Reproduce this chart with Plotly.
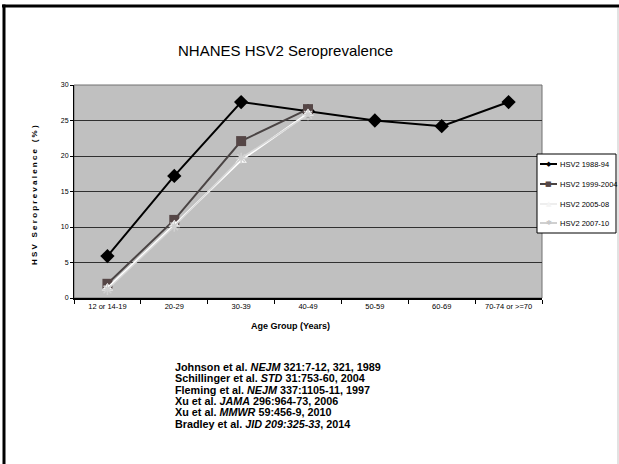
import plotly.graph_objects as go

categories = ["12 or 14-19", "20-29", "30-39", "40-49", "50-59", "60-69", "70-74 or >=70"]
s1988 = [5.9, 17.2, 27.6, 26.3, 25.0, 24.2, 27.6]
s1999 = [2.0, 11.0, 22.1, 26.6]
s2005 = [1.4, 10.3, 19.4, 26.0]
s2007 = [1.2, 10.1, 19.7, 25.8]
series_names = ["HSV2 1988-94", "HSV2 1999-2004", "HSV2 2005-08", "HSV2 2007-10"]
citations = [
    "<b>Johnson et al. <i>NEJM</i> 321:7-12, 321, 1989</b>",
    "<b>Schillinger et al. <i>STD</i> 31:753-60, 2004</b>",
    "<b>Fleming et al. <i>NEJM</i> 337:1105-11, 1997</b>",
    "<b>Xu et al. <i>JAMA</i> 296:964-73, 2006</b>",
    "<b>Xu et al. <i>MMWR</i> 59:456-9, 2010</b>",
    "<b>Bradley et al. <i>JID 209:325-33</i>, 2014</b>",
]

W, H = 619, 464
L, R, T, B = 74, 542, 85, 298
FONT = "Liberation Sans Narrow, Arial Narrow, Liberation Sans, Arial"

def px(x):
    return (x - L) / (R - L)

def py(y):
    return (B - y) / (B - T)

line_colors = ["#000000", "#4a4444", "#ffffff", "#d8d8d8"]
marker_colors = ["#000000", "#554646", "#ffffff", "#d0d0d0"]

fig = go.Figure()
fig.add_trace(go.Scatter(x=categories, y=s1988, name=series_names[0], mode="lines+markers",
                         line=dict(color=line_colors[0], width=2),
                         marker=dict(symbol="diamond", size=11, color=marker_colors[0])))
fig.add_trace(go.Scatter(x=categories[:len(s1999)], y=s1999, name=series_names[1], mode="lines+markers",
                         line=dict(color=line_colors[1], width=2),
                         marker=dict(symbol="square", size=10, color=marker_colors[1])))
fig.add_trace(go.Scatter(x=categories[:len(s2005)], y=s2005, name=series_names[2], mode="lines+markers",
                         line=dict(color=line_colors[2], width=2),
                         marker=dict(symbol="triangle-up", size=10, color=marker_colors[2])))
fig.add_trace(go.Scatter(x=categories[:len(s2007)], y=s2007, name=series_names[3], mode="lines+markers",
                         line=dict(color=line_colors[3], width=1.5),
                         marker=dict(symbol="asterisk-open", size=9, color=marker_colors[3],
                                     line=dict(color=marker_colors[3], width=1.5))))

shapes = [
    dict(type="rect", xref="paper", yref="paper", x0=px(2), x1=px(622), y0=py(4.5), y1=py(7.5),
         line=dict(width=0), fillcolor="#000000", layer="above"),
    dict(type="rect", xref="paper", yref="paper", x0=px(2.5), x1=px(5.5), y0=py(4.5), y1=py(466),
         line=dict(width=0), fillcolor="#000000", layer="above"),
    dict(type="line", xref="paper", yref="paper", x0=px(618), x1=px(618), y0=py(8), y1=py(464),
         line=dict(color="#d8d8d8", width=1.5)),
    dict(type="rect", xref="paper", yref="paper", x0=0, x1=1, y0=0, y1=1,
         line=dict(color="#707070", width=1), layer="below"),
    # manual legend box
    dict(type="rect", xref="paper", yref="paper", x0=px(537), x1=px(616), y0=py(154), y1=py(233),
         line=dict(color="#000000", width=1), fillcolor="#ffffff", layer="above"),
]

annotations = [
    dict(text="NHANES HSV2 Seroprevalence", x=px(285), y=py(50), xref="paper", yref="paper",
         showarrow=False, xanchor="center", yanchor="middle",
         font=dict(family=FONT, size=15, color="#000000")),
    dict(text="<b>H S V   S e r o p r e v a l e n c e   ( % )</b>", x=px(34), y=py(195), xref="paper", yref="paper",
         showarrow=False, textangle=-90, xanchor="center", yanchor="middle",
         font=dict(family=FONT, size=8, color="#000000")),
    dict(text="<b>Age Group (Years)</b>", x=px(290), y=py(326), xref="paper", yref="paper",
         showarrow=False, xanchor="center", yanchor="middle",
         font=dict(family=FONT, size=9, color="#000000")),
]
for i, c in enumerate(citations):
    annotations.append(dict(text=c, x=px(173), y=py(367 + i * 11.3), xref="paper", yref="paper",
                            showarrow=False, xanchor="left", yanchor="middle",
                            font=dict(family="Liberation Sans, Arial", size=10.8, color="#000000")))

# manual legend entries
legend_y = [164, 184, 204, 223]
legend_glyphs = ["◆", "■", "▲", "✱"]
legend_glyph_colors = ["#000000", "#554646", "#f4f4f4", "#c8c8c8"]
legend_line_colors = ["#000000", "#4a4444", "#eeeeee", "#d0d0d0"]
for i, name in enumerate(series_names):
    yy = legend_y[i]
    shapes.append(dict(type="line", xref="paper", yref="paper", x0=px(540), x1=px(557),
                       y0=py(yy), y1=py(yy), line=dict(color=legend_line_colors[i], width=2),
                       layer="above"))
    annotations.append(dict(text=legend_glyphs[i], x=px(548.5), y=py(yy), xref="paper", yref="paper",
                            showarrow=False, xanchor="center", yanchor="middle",
                            font=dict(family="DejaVu Sans", size=7, color=legend_glyph_colors[i])))
    annotations.append(dict(text=name, x=px(558), y=py(yy), xref="paper", yref="paper",
                            showarrow=False, xanchor="left", yanchor="middle",
                            font=dict(family=FONT, size=7.5, color="#000000")))

fig.update_layout(
    width=W, height=H,
    margin=dict(l=L, r=W - R, t=T, b=H - B, pad=0),
    paper_bgcolor="#ffffff", plot_bgcolor="#c0c0c0",
    showlegend=False,
    shapes=shapes, annotations=annotations,
    xaxis=dict(type="category", categoryorder="array", categoryarray=categories,
               range=[-0.5, 6.5], showgrid=False, zeroline=False,
               ticks="outside", ticklen=4, tickcolor="#000000", tickson="boundaries",
               showline=True, linecolor="#000000", linewidth=1.5, mirror=False,
               tickfont=dict(family=FONT, size=7.5, color="#000000")),
    yaxis=dict(range=[0, 30], dtick=5, showgrid=True, gridcolor="#303030", gridwidth=1,
               zeroline=False, ticks="outside", ticklen=3, tickcolor="#000000",
               showline=True, linecolor="#000000", linewidth=1, mirror=False,
               tickfont=dict(family=FONT, size=7, color="#000000")),
)

fig.write_html("out.html", config={"displayModeBar": False},
               post_script="document.body.style.margin='0';document.body.style.padding='0';")
